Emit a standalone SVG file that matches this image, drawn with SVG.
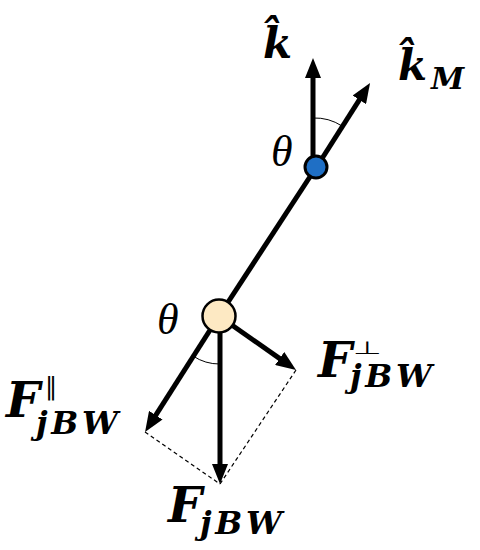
<svg xmlns="http://www.w3.org/2000/svg" width="480" height="550" viewBox="0 0 480 550">
<style>
.vec{stroke:#000;stroke-width:5;fill:none;marker-end:url(#ah)}
.ln{stroke:#000;stroke-width:5;fill:none}
.dash{stroke:#000;stroke-width:1.2;stroke-dasharray:4 3;fill:none}
.arc{stroke:#000;stroke-width:1;fill:none}
.bi{font-family:"DejaVu Serif","Liberation Serif",serif;font-weight:bold;font-style:italic;fill:#000}
.it{font-family:"Liberation Serif","Times New Roman",serif;font-style:italic;fill:#000}
.sym{font-family:"DejaVu Sans","Liberation Sans",sans-serif;font-style:normal;font-weight:normal;fill:#000}
</style>
<defs>
<marker id="ah" viewBox="0 0 20 16" refX="8" refY="8" markerWidth="20" markerHeight="16" markerUnits="userSpaceOnUse" orient="auto">
<path d="M0,0 L20,8 L0,16 z" fill="#000"/>
</marker>
</defs>
<g id="connectors">
<line class="ln" x1="317" y1="166" x2="219" y2="316"/>
<line class="vec" x1="313" y1="166" x2="313" y2="70"/>
<line class="vec" x1="316" y1="168" x2="363.6" y2="93.1"/>
<line class="vec" x1="219" y1="316" x2="151.5" y2="421.9"/>
<line class="vec" x1="220" y1="316" x2="220" y2="472"/>
<line class="vec" x1="219" y1="316" x2="286.2" y2="363.1"/>
<line class="dash" x1="145" y1="432" x2="220" y2="484"/>
<line class="dash" x1="296" y1="370" x2="220" y2="484"/>
<path class="arc" d="M313,118 A50,50 0 0,1 342,126"/>
<path class="arc" d="M193,356 A48,48 0 0,0 220,364"/>
</g>
<g id="nodeTop">
<circle cx="316" cy="167" r="11" fill="#1f6fc5" stroke="#000" stroke-width="3"/>
</g>
<g id="nodeBottom">
<circle cx="219" cy="316" r="16.5" fill="#fde9c3" stroke="#000" stroke-width="2.5"/>
</g>
<g id="labels">
<text class="bi" x="263" y="58" font-size="42">k̂</text>
<text class="bi" x="398" y="80" font-size="42">k̂<tspan x="431" y="89" font-size="30">M</tspan></text>
<text class="it" x="271" y="166" font-size="44">θ</text>
<text class="it" x="157" y="334" font-size="44">θ</text>
<text class="bi" x="6" y="417" font-size="48">F<tspan class="sym" x="45" y="395" font-size="25">∥</tspan><tspan x="36" y="434" font-size="32" textLength="82" lengthAdjust="spacing">jBW</tspan></text>
<text class="bi" x="318" y="377" font-size="48">F<tspan x="350" y="387" font-size="32" textLength="82" lengthAdjust="spacing">jBW</tspan></text>
<text class="sym" transform="translate(353,354) scale(1.1,0.6)" font-size="30">⊥</text>
<text class="bi" x="168" y="522" font-size="48">F<tspan x="200" y="534" font-size="32" textLength="82" lengthAdjust="spacing">jBW</tspan></text>
</g>
</svg>
